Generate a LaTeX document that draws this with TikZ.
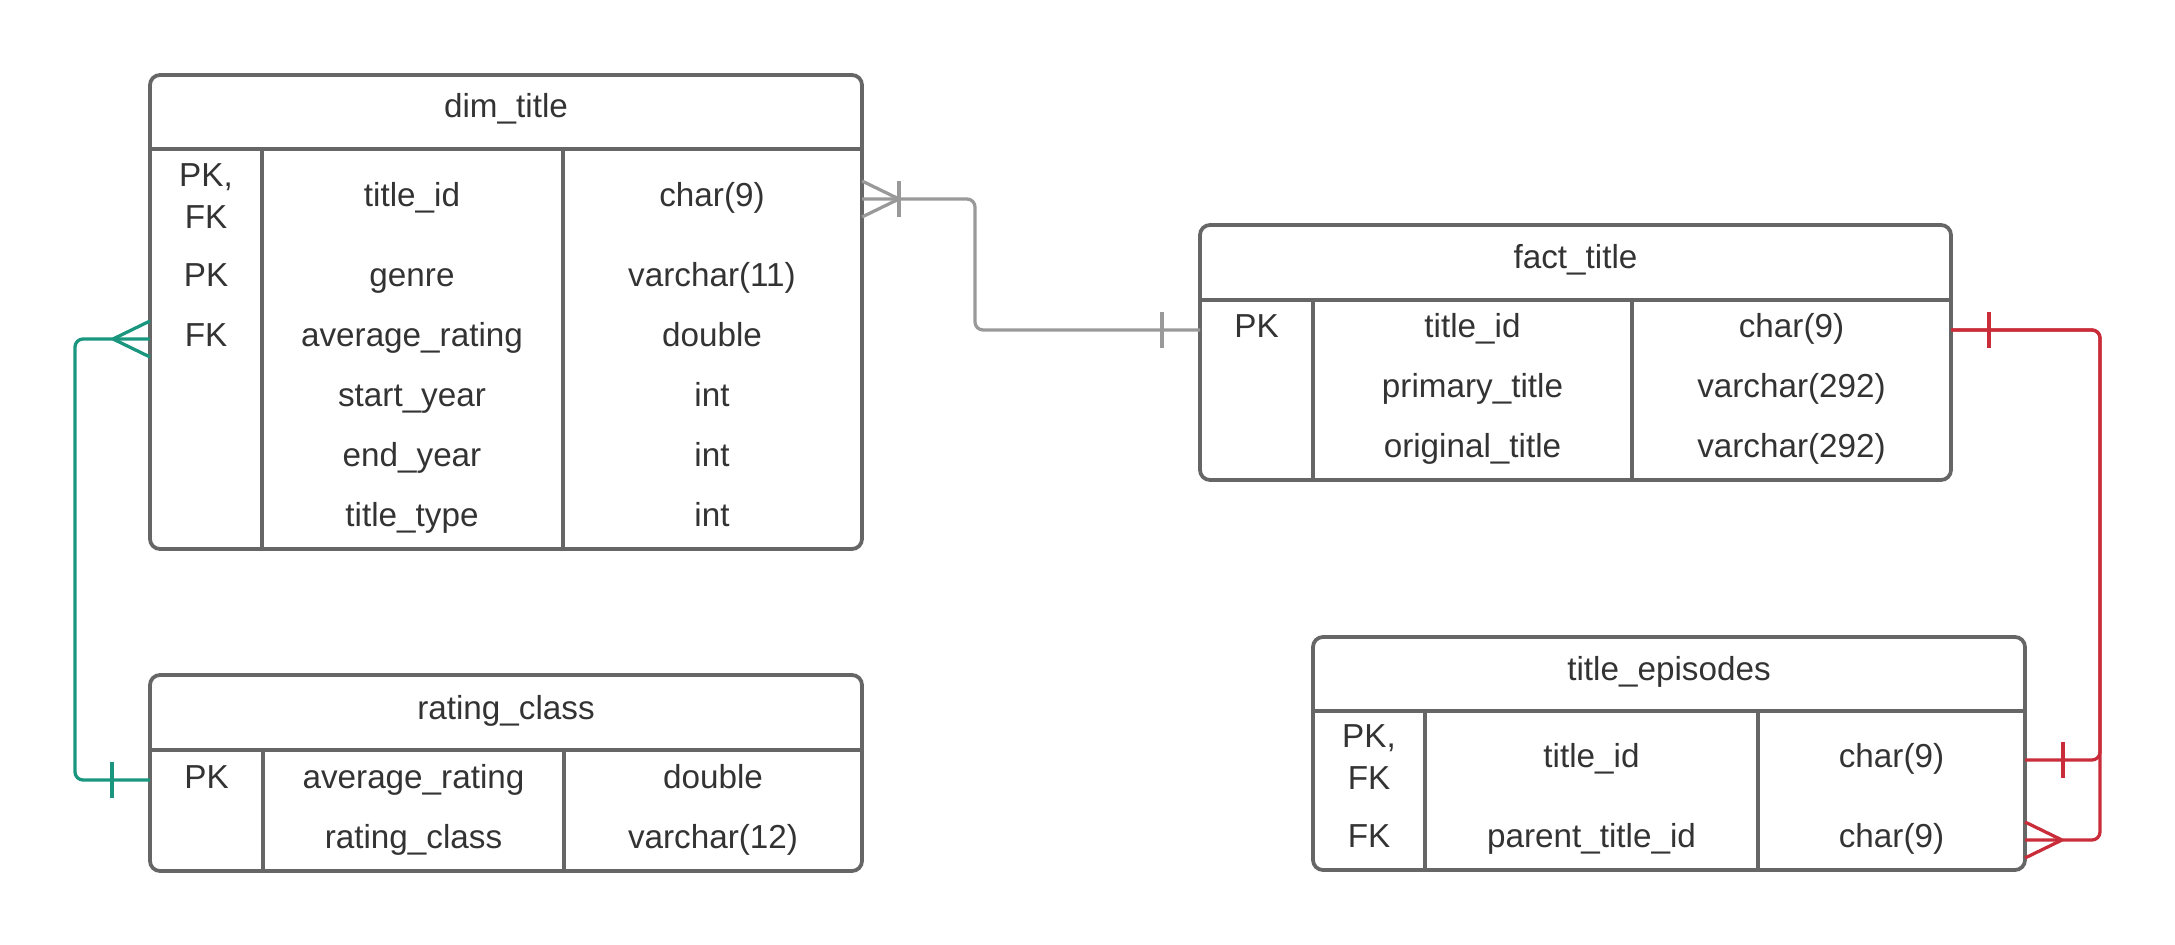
\documentclass[tikz,border=0pt]{standalone}
\usepackage{fontspec}
\setmainfont{Liberation Sans}
\definecolor{txt}{HTML}{333333}
\definecolor{bord}{HTML}{666666}
\definecolor{conngrey}{HTML}{999999}
\definecolor{connred}{HTML}{C92D39}
\definecolor{conngreen}{HTML}{19967D}
\tikzset{
  tablebox/.style={draw=bord, line width=1.5pt, rounded corners=4pt, rectangle, inner sep=0pt, outer sep=0pt},
  rule/.style={draw=bord, line width=1.5pt},
  cell/.style={anchor=base, inner sep=0pt, text=txt, font=\fontsize{13.3}{16.8}\selectfont, align=center},
  conn/.style={line width=1.3pt, rounded corners=3.2pt},
  crowfoot/.pic={\draw[line width=1.3pt] (0,-18) -- (37,0); \draw[line width=1.3pt] (0,18) -- (37,0);},
  crowbar/.pic={\draw[line width=1.3pt] (0,-18) -- (37,0); \draw[line width=1.3pt] (0,18) -- (37,0); \draw[line width=1.3pt] (37,-18) -- (37,18);},
  onebar/.pic={\draw[line width=1.3pt] (38,-18) -- (38,18);}
}
\begin{document}
\begin{tikzpicture}[x=0.4pt, y=-0.4pt]
\useasboundingbox (0,0) rectangle (2175,945);

% ---------- dim_title ----------
\node[tablebox, minimum width=284.8pt, minimum height=189.6pt] (dim) at (506,312) {};
\draw[rule] (dim.west |- 0,149) -- (dim.east |- 0,149);
\draw[rule] (262,149) -- (262,549);
\draw[rule] (563,149) -- (563,549);
\node[cell] (dimH) at (506,118) {dim\_title};
\node[cell, anchor=center] (dimK1) at (206,196) {PK,\\FK};
\node[cell] (dimN1) at (412,207) {title\_id};
\node[cell] (dimT1) at (712,207) {char(9)};
\node[cell] (dimK2) at (206,287) {PK};
\node[cell] (dimN2) at (412,287) {genre};
\node[cell] (dimT2) at (712,287) {varchar(11)};
\node[cell] (dimK3) at (206,347) {FK};
\node[cell] (dimN3) at (412,347) {average\_rating};
\node[cell] (dimT3) at (712,347) {double};
\node[cell] (dimN4) at (412,407) {start\_year};
\node[cell] (dimT4) at (712,407) {int};
\node[cell] (dimN5) at (412,467) {end\_year};
\node[cell] (dimT5) at (712,467) {int};
\node[cell] (dimN6) at (412,527) {title\_type};
\node[cell] (dimT6) at (712,527) {int};

% ---------- fact_title ----------
\node[tablebox, minimum width=300.4pt, minimum height=102pt] (fact) at (1575.5,352.5) {};
\draw[rule] (fact.west |- 0,300) -- (fact.east |- 0,300);
\draw[rule] (1313,300) -- (1313,480);
\draw[rule] (1632,300) -- (1632,480);
\node[cell] (factH) at (1575.5,269) {fact\_title};
\node[cell] (factK1) at (1256.5,338) {PK};
\node[cell] (factN1) at (1472.5,338) {title\_id};
\node[cell] (factT1) at (1791.5,338) {char(9)};
\node[cell] (factN2) at (1472.5,398) {primary\_title};
\node[cell] (factT2) at (1791.5,398) {varchar(292)};
\node[cell] (factN3) at (1472.5,458) {original\_title};
\node[cell] (factT3) at (1791.5,458) {varchar(292)};

% ---------- rating_class ----------
\node[tablebox, minimum width=284.8pt, minimum height=78.4pt] (rat) at (506,773) {};
\draw[rule] (rat.west |- 0,750) -- (rat.east |- 0,750);
\draw[rule] (263,750) -- (263,871);
\draw[rule] (564,750) -- (564,871);
\node[cell] (ratH) at (506,719) {rating\_class};
\node[cell] (ratK1) at (206.5,788) {PK};
\node[cell] (ratN1) at (413.5,788) {average\_rating};
\node[cell] (ratT1) at (713,788) {double};
\node[cell] (ratN2) at (413.5,848) {rating\_class};
\node[cell] (ratT2) at (713,848) {varchar(12)};

% ---------- title_episodes ----------
\node[tablebox, minimum width=284.8pt, minimum height=93.2pt] (ep) at (1669,753.5) {};
\draw[rule] (ep.west |- 0,711) -- (ep.east |- 0,711);
\draw[rule] (1425,711) -- (1425,870);
\draw[rule] (1758,711) -- (1758,870);
\node[cell] (epH) at (1669,680) {title\_episodes};
\node[cell, anchor=center] (epK1) at (1369,757) {PK,\\FK};
\node[cell] (epN1) at (1591.5,767) {title\_id};
\node[cell] (epT1) at (1891.5,767) {char(9)};
\node[cell] (epK2) at (1369,847) {FK};
\node[cell] (epN2) at (1591.5,847) {parent\_title\_id};
\node[cell] (epT2) at (1891.5,847) {char(9)};

% ---------- connectors ----------
\coordinate (gA) at (dim.east |- 0,199);
\coordinate (gB) at (fact.west |- 0,330);
\draw[conn, conngrey] (gA) -- ++(113,0) |- (gB);
\pic[conngrey] at (gA) {crowbar};
\pic[conngrey, xscale=-1] at (gB) {onebar};

\coordinate (rA) at (fact.east |- 0,330);
\coordinate (rB) at (ep.east |- 0,760);
\coordinate (rC) at (ep.east |- 0,840);
\draw[conn, connred] (rA) -- (2100,330) |- (rB);
\draw[conn, connred] (rA) -- (2100,330) |- (rC);
\pic[connred] at (rA) {onebar};
\pic[connred] at (rB) {onebar};
\pic[connred] at (rC) {crowfoot};

\coordinate (cA) at (dim.west |- 0,339);
\coordinate (cB) at (rat.west |- 0,780);
\draw[conn, conngreen] (cA) -- (75,339) |- (cB);
\pic[conngreen, xscale=-1] at (cA) {crowfoot};
\pic[conngreen, xscale=-1] at (cB) {onebar};
\end{tikzpicture}
\end{document}
